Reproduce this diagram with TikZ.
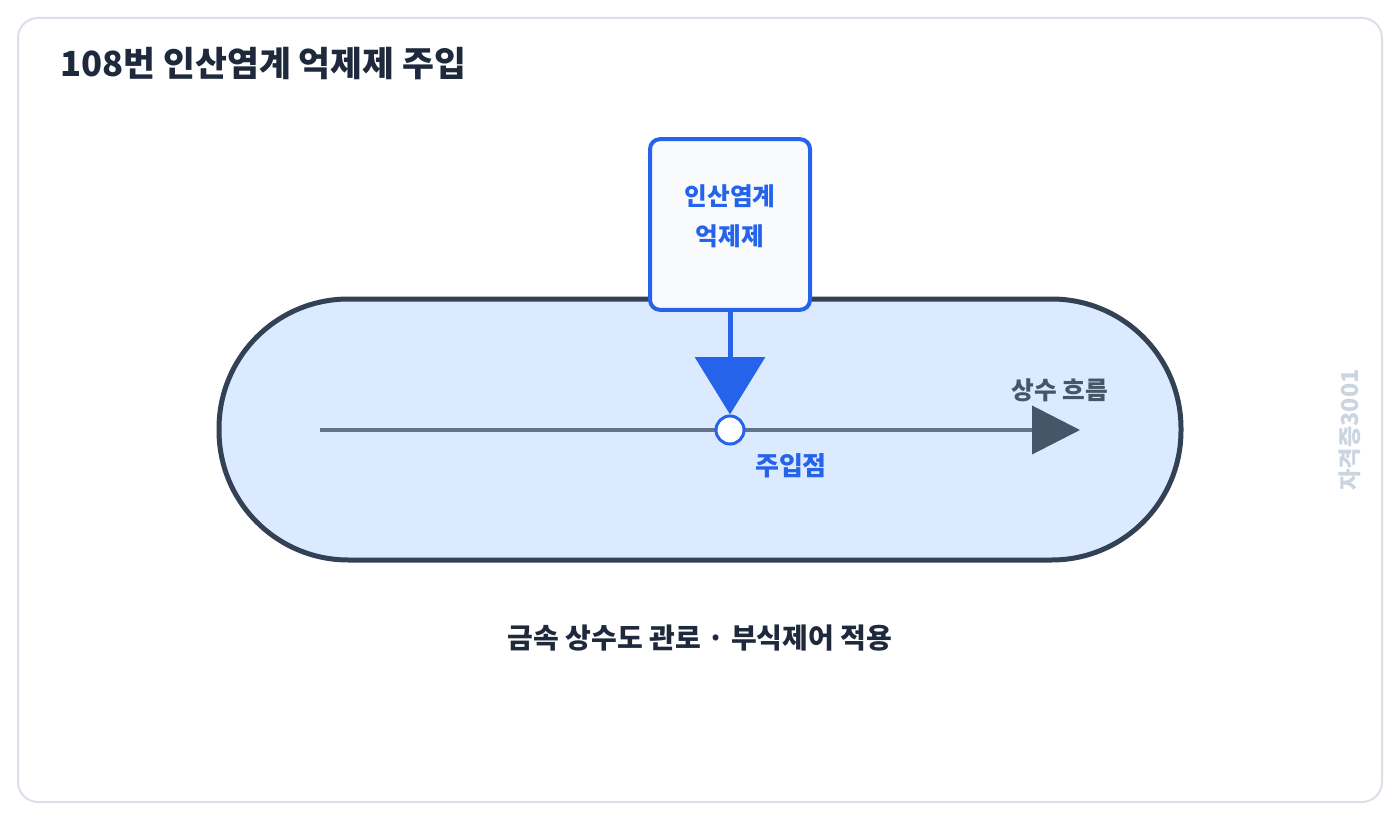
\documentclass[tikz,border=0pt]{standalone}
\usepackage{fontspec}
\setmainfont{Noto Sans CJK KR}
\usetikzlibrary{arrows.meta, positioning}
\definecolor{frameline}{HTML}{D9E0EA}
\definecolor{inktext}{HTML}{1E293B}
\definecolor{pipefill}{HTML}{DBEAFE}
\definecolor{pipeline}{HTML}{334155}
\definecolor{dosblue}{HTML}{2563EB}
\definecolor{boxfill}{HTML}{F8FAFC}
\definecolor{flowline}{HTML}{64748B}
\definecolor{flowtip}{HTML}{475569}
\definecolor{markgray}{HTML}{CBD5E1}
\begin{document}
\begin{tikzpicture}[
  x=0.75pt, y=-0.75pt,
  every node/.style={font=\bfseries, inner sep=0pt},
  doser/.style={draw=dosblue, line width=3pt, fill=boxfill, rounded corners=7.5pt, minimum width=120pt, minimum height=128pt},
  dosetext/.style={text=dosblue, align=center, font=\bfseries\fontsize{18.5}{30}\selectfont},
  dosearrow/.style={-{Triangle[length=43pt, width=52pt]}, draw=dosblue, line width=3.75pt},
  flowarrow/.style={-{Triangle[length=36pt, width=36pt, color=flowtip]}, draw=flowline, line width=3pt}
]
\useasboundingbox (0,0) rectangle (1400,820);

% frame and title
\draw[frameline, line width=1.5pt, rounded corners=15pt] (18,18) rectangle (1382,802);
\node[anchor=west, text=inktext, font=\bfseries\fontsize{26}{28}\selectfont] (title) at (60,64) {108번 인산염계 억제제 주입};

% pipe
\draw[pipeline, fill=pipefill, line width=3.75pt, rounded corners=97pt] (219,299) rectangle (1181,560);

% flow
\coordinate (flowstart) at (320,430);
\coordinate (flowend) at (1080,430);
\draw[flowarrow] (flowstart) -- (flowend);
\node[text=flowtip, font=\bfseries\fontsize{18.5}{20}\selectfont] (flowlabel) at (1060,390) {상수 흐름};

% dosing box and injection point
\node[doser] (dosing) at (730,224.5) {};
\node[dosetext] (dosinglabel) at (730,216) {인산염계\\억제제};
\node[circle, draw=dosblue, fill=white, line width=2.25pt, minimum size=21pt] (inject) at (730,430) {};
\draw[dosearrow] (dosing.south) -- (inject.north);
\node[text=dosblue, font=\bfseries\fontsize{19.5}{21}\selectfont] (injectlabel) at (791,466) {주입점};

% caption and watermark
\node[text=inktext, font=\bfseries\fontsize{21}{23}\selectfont] (caption) at (700,638) {금속 상수도 관로 · 부식제어 적용};
\node[text=markgray, rotate=90, font=\bfseries\fontsize{17.5}{19}\selectfont] (mark) at (1350,430) {자격증3001};
\end{tikzpicture}
\end{document}
